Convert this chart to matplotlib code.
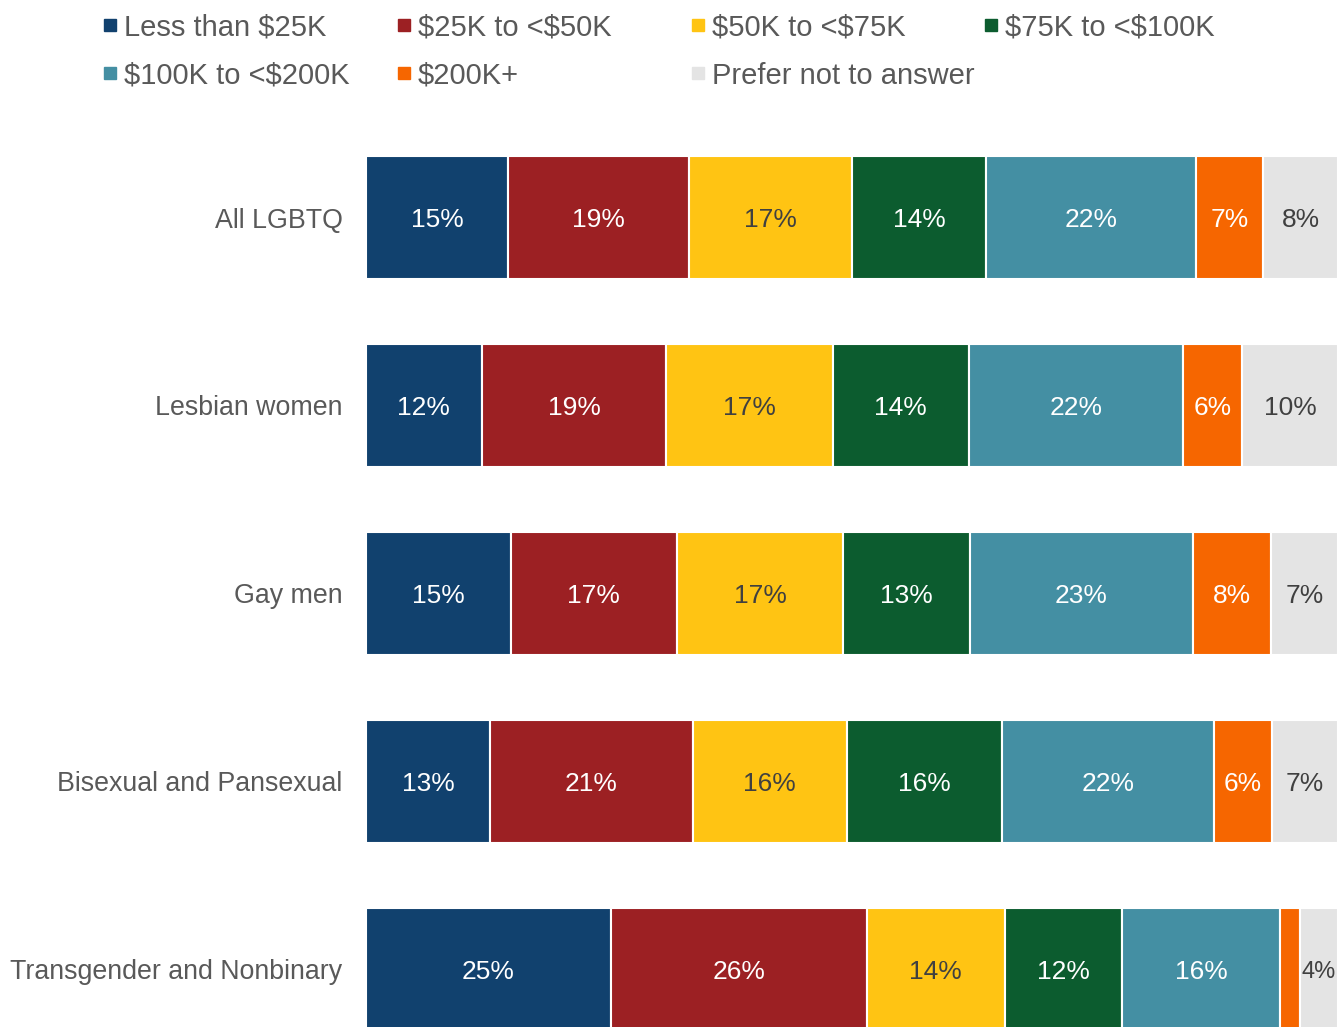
import matplotlib.pyplot as plt
from matplotlib.patches import Rectangle

plt.rcParams['font.family'] = ['Liberation Sans', 'DejaVu Sans']
plt.rcParams['text.parse_math'] = False

groups = ['All LGBTQ', 'Lesbian women', 'Gay men', 'Bisexual and Pansexual', 'Transgender and Nonbinary']
income_bands = ['Less than $25K', '$25K to <$50K', '$50K to <$75K', '$75K to <$100K',
                '$100K to <$200K', '$200K+', 'Prefer not to answer']
colors = ['#11416E', '#9C2023', '#FFC413', '#0C5C2F', '#448FA3', '#F66600', '#E4E4E4']

# share of each group per income band (percent)
less_25k = [14.6, 11.9, 14.9, 12.8, 25.2]
k25_50 = [18.6, 19.0, 17.1, 20.8, 26.3]
k50_75 = [16.8, 17.1, 17.1, 15.9, 14.2]
k75_100 = [13.8, 14.0, 13.0, 15.9, 12.1]
k100_200 = [21.6, 22.1, 23.0, 21.8, 16.2]
k200_plus = [6.9, 6.0, 8.0, 6.0, 2.1]
no_answer = [7.7, 9.9, 6.9, 6.8, 3.9]

# printed labels
labels = [
    [15, 19, 17, 14, 22, 7, 8],
    [12, 19, 17, 14, 22, 6, 10],
    [15, 17, 17, 13, 23, 8, 7],
    [13, 21, 16, 16, 22, 6, 7],
    [25, 26, 14, 12, 16, None, 4],
]

series = [less_25k, k25_50, k50_75, k75_100, k100_200, k200_plus, no_answer]
dark_text = {2, 6}

fig = plt.figure(figsize=(13.41, 10.27), dpi=100)
ax = fig.add_axes([366 / 1341, 0, 972 / 1341, 1])

y = list(range(len(groups)))
left = [0] * len(groups)
for k, vals in enumerate(series):
    ax.barh(y, vals, left=left, height=0.655, color=colors[k], edgecolor='white', linewidth=1.5)
    for i, v in enumerate(vals):
        lab = labels[i][k]
        if lab is not None:
            ax.text(left[i] + v / 2, i, f'{lab}%', ha='center', va='center_baseline',
                    fontsize=19 if v > 5 else 17,
                    color='#404040' if k in dark_text else 'white')
    left = [a + b for a, b in zip(left, vals)]

ax.set_xlim(0, 100)
ax.set_ylim(4.306, -1.157)
ax.set_yticks(y)
ax.set_yticklabels(groups, fontsize=19.3, color='#595959')
ax.tick_params(axis='y', length=0, pad=17)
ax.set_xticks([])
for s in ax.spines.values():
    s.set_visible(False)

# legend, four columns
col_x = [104, 398, 692, 985]
row_y = [25, 73]
W, H = 1341, 1027
for n, name in enumerate(income_bands):
    cx = col_x[n % 4]
    cy = row_y[n // 4]
    fig.patches.append(Rectangle((cx / W, 1 - (cy + 6) / H), 12 / W, 12 / H,
                                 transform=fig.transFigure, color=colors[n]))
    fig.text((cx + 20) / W, 1 - cy / H, name, fontsize=21, color='#595959', va='center_baseline')

fig.savefig('out.png', dpi=100)
